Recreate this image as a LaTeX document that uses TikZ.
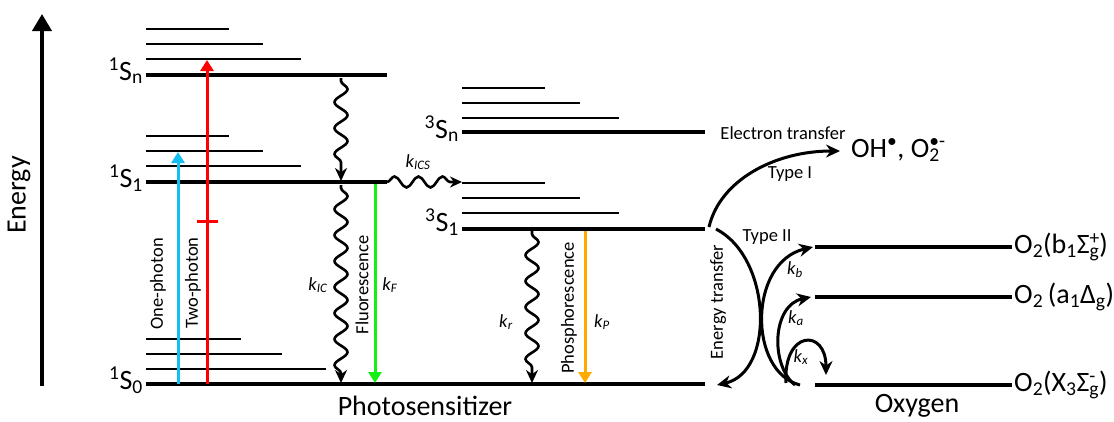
\documentclass[tikz,border=0pt]{standalone}
\usepackage{fontspec}
\setmainfont{Carlito}
\usetikzlibrary{arrows.meta,decorations.pathmorphing}
\newcommand\supsub[2]{\makebox[0pt][l]{\textsuperscript{#1}}\textsubscript{#2}}
\newcommand\kk[1]{\textit{k}\textsubscript{\textit{#1}}}
\begin{document}
\begin{tikzpicture}[x=1pt,y=-1pt,
  lvl/.style={line width=4pt},
  sublvl/.style={line width=2pt},
  big/.style={font=\fontsize{28}{32}\selectfont, inner sep=0pt},
  small/.style={font=\fontsize{18.5}{22}\selectfont, inner sep=0pt},
  excite/.style={line width=3pt, -{Triangle[length=11pt,width=13pt]}},
  wavy/.style={line width=2.6pt, -{Stealth[length=13pt,width=12pt]}, decorate,
     decoration={snake, amplitude=6.5pt, segment length=26pt, pre length=3pt, post length=9pt}},
  curvy/.style={line width=3pt, -{Stealth[length=14pt,width=13pt]}},
]
\useasboundingbox (0,0) rectangle (1114,421);
\definecolor{cyanb}{RGB}{20,190,240}
\definecolor{greenf}{RGB}{20,240,20}
\definecolor{orangep}{RGB}{255,170,0}
\definecolor{redt}{RGB}{255,0,0}

% energy axis
\coordinate (axb) at (42,386);
\coordinate (axt) at (42,14);
\draw[line width=4pt, -{Triangle[length=17pt,width=19pt]}] (axb) -- (axt);
\node[big, rotate=90] (energy) at (19,195) {Energy};

% singlet levels
\draw[lvl] (146,75) coordinate (snL) -- (387,75) coordinate (snR);
\draw[sublvl] (146,59) -- (301,59);
\draw[sublvl] (146,44) -- (263,44);
\draw[sublvl] (146,29) -- (229,29);
\draw[lvl] (146,182) coordinate (s1L) -- (387,182) coordinate (s1R);
\draw[sublvl] (146,166) -- (301,166);
\draw[sublvl] (146,151) -- (263,151);
\draw[sublvl] (146,136) -- (229,136);
\draw[lvl] (146,384) coordinate (s0L) -- (705,384) coordinate (s0R);
\draw[sublvl] (146,369) -- (326,369);
\draw[sublvl] (146,354) -- (282,354);
\draw[sublvl] (146,339) -- (241,339);

\node[big, anchor=base east] (lsn) at (143,80) {\textsuperscript{1}S\textsubscript{n}};
\node[big, anchor=base east] (ls1) at (143,187) {\textsuperscript{1}S\textsubscript{1}};
\node[big, anchor=base east] (ls0) at (143,389) {\textsuperscript{1}S\textsubscript{0}};

% triplet levels
\draw[lvl] (462,132) coordinate (tnL) -- (705,132) coordinate (tnR);
\draw[sublvl] (462,118) -- (619,118);
\draw[sublvl] (462,103) -- (580,103);
\draw[sublvl] (462,88) -- (545,88);
\draw[lvl] (462,229) coordinate (t1L) -- (705,229) coordinate (t1R);
\draw[sublvl] (462,213) -- (619,213);
\draw[sublvl] (462,198) -- (580,198);
\draw[sublvl] (462,183) -- (545,183);
\node[big, anchor=base east] (ltn) at (459,138) {\textsuperscript{3}S\textsubscript{n}};
\node[big, anchor=base east] (lt1) at (459,231) {\textsuperscript{3}S\textsubscript{1}};

% excitation
\coordinate (bluS) at (178,384); \coordinate (bluE) at (178,152);
\coordinate (redS) at (207,384); \coordinate (redE) at (207,60);
\draw[excite, cyanb] (bluS) -- (bluE);
\draw[excite, redt] (redS) -- (redE);
\draw[line width=3pt, redt] (197,221) -- (218,221);
\node[small, rotate=90] (onep) at (158,284) {One-photon};
\node[small, rotate=90] (twop) at (193,283) {Two-photon};

% internal conversion
\coordinate (icA) at (341,78); \coordinate (icB) at (341,181);
\coordinate (icC) at (341,185); \coordinate (icD) at (341,383);
\draw[wavy] (icA) -- (icB);
\draw[wavy] (icC) -- (icD);
\node[small] (kic) at (318,285) {\kk{IC}};

% fluorescence
\coordinate (flA) at (375,184); \coordinate (flB) at (375,383);
\draw[excite, greenf] (flA) -- (flB);
\node[small, rotate=90] (fluo) at (362,285) {Fluorescence};
\node[small] (kf) at (390,285) {\kk{F}};

% ISC
\coordinate (iscA) at (387,182); \coordinate (iscB) at (462,182);
\draw[line width=2.6pt, -{Stealth[length=12pt,width=11pt]}, decorate,
  decoration={snake, amplitude=5.5pt, segment length=24pt, post length=9pt}] (iscA) -- (iscB);
\node[small] (kics) at (418,162) {\kk{ICS}};

% triplet decay
\coordinate (krA) at (532,231); \coordinate (krB) at (532,383);
\draw[wavy] (krA) -- (krB);
\node[small] (kr) at (506,322) {\kk{r}};
\coordinate (phA) at (585,231); \coordinate (phB) at (585,383);
\draw[excite, orangep] (phA) -- (phB);
\node[small, rotate=90] (phos) at (569,308) {Phosphorescence};
\node[small] (kp) at (602,322) {\kk{P}};

\node[big] (psens) at (425,406) {Photosensitizer};

% oxygen levels
\draw[lvl] (815,247) coordinate (obL) -- (1012,247) coordinate (obR);
\draw[lvl] (815,297) coordinate (oaL) -- (1012,297) coordinate (oaR);
\draw[lvl] (815,385) coordinate (oxL) -- (1012,385) coordinate (oxR);
\node[big, anchor=west] (lob) at (1014,247) {O\textsubscript{2}(b\textsubscript{1}Σ\supsub{+}{g})};
\node[big, anchor=west] (loa) at (1014,297) {O\textsubscript{2}\,(a\textsubscript{1}Δ\textsubscript{g})};
\node[big, anchor=west] (lox) at (1014,385) {O\textsubscript{2}(X\textsubscript{3}Σ\supsub{-}{g})};
\node[big] (oxy) at (917,406) {Oxygen};

% type I
\coordinate (tIA) at (709,227); \coordinate (tIB) at (840,151);
\draw[curvy] (tIA) .. controls (720,180) and (775,151) .. (tIB);
\node[small] (etr) at (783,133) {Electron transfer};
\node[small] (typeI) at (790,174) {Type I};
\node[big, anchor=west] (ros) at (851,150) {OH\textsuperscript{•}, O\supsub{•-}{2}};

% energy transfer
\coordinate (enA) at (716,229); \coordinate (enB) at (717,385);
\draw[curvy] (enA) .. controls (772,258) and (775,372) .. (enB);
\node[small, rotate=90] (entr) at (718,302) {Energy transfer};
\node[small] (typeII) at (767,237) {Type II};

% oxygen excitation
\coordinate (oS) at (800,385);
\coordinate (kbE) at (813,247);
\draw[curvy] (oS) .. controls (748,372) and (748,262) .. (kbE);
\coordinate (kaS) at (795,385); \coordinate (kaE) at (811,297);
\draw[curvy] (kaS) .. controls (770,365) and (772,305) .. (kaE);
\coordinate (kxS) at (786,383); \coordinate (kxE) at (826,375);
\draw[curvy] (kxS) .. controls (783,330) and (826,328) .. (kxE);
\node[small] (kb) at (795,270) {\kk{b}};
\node[small] (ka) at (796,318) {\kk{a}};
\node[small] (kx) at (801,357) {\kk{x}};
\end{tikzpicture}
\end{document}
